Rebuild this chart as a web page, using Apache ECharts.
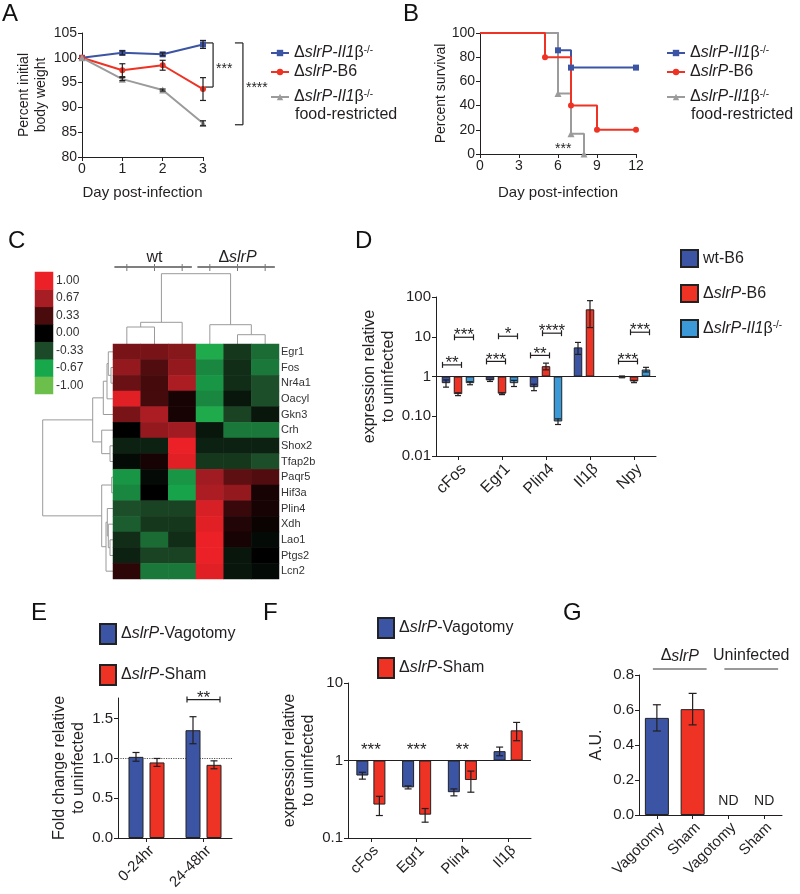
<!DOCTYPE html>
<html>
<head>
<meta charset="utf-8">
<script src="https://cdn.jsdelivr.net/npm/echarts@6/dist/echarts.min.js"></script>
<style>
  html, body { margin: 0; padding: 0; background: #fff; }
  #wrap { position: relative; width: 800px; height: 894px; }
  .panel { position: absolute; left: 0; top: 0; width: 800px; height: 894px; }
</style>
</head>
<body>
<div id="wrap"></div>
<script>
// ---- A: body weight ----
const daysA = [0, 1, 2, 3];
const weightIl1b = [100, 101.0, 100.7, 102.7];
const weightIl1bErr = [0, 0.4, 0.3, 0.8];
const weightB6 = [100, 97.5, 98.5, 93.7];
const weightB6Err = [0, 1.3, 1.0, 2.3];
const weightFR = [100, 95.7, 93.5, 86.8];
const weightFRErr = [0, 0.3, 0.2, 0.5];

// ---- B: survival [day, percent] ----
const survIl1b = [[0, 100], [6, 85.7], [7, 71.4], [12, 71.4]];
const survB6 = [[0, 100], [5, 80], [7, 40], [9, 20], [12, 20]];
const survFR = [[0, 100], [6, 50], [7, 16.7], [8, 0]];

// ---- C: heatmap ----
const heatSamples = ['wt-1', 'wt-2', 'wt-3', 'slrP-1', 'slrP-2', 'slrP-3'];
const heatGenes = ['Egr1', 'Fos', 'Nr4a1', 'Oacyl', 'Gkn3', 'Crh', 'Shox2', 'Tfap2b',
  'Paqr5', 'Hif3a', 'Plin4', 'Xdh', 'Lao1', 'Ptgs2', 'Lcn2'];
const heatValues = [
  [0.50, 0.50, 0.55, -0.70, -0.25, -0.45],
  [0.60, 0.35, 0.60, -0.55, -0.20, -0.50],
  [0.45, 0.30, 0.70, -0.60, -0.20, -0.35],
  [0.95, 0.30, 0.10, -0.55, -0.10, -0.35],
  [0.50, 0.70, 0.10, -0.70, -0.30, -0.10],
  [0.00, 0.60, 0.65, -0.10, -0.50, -0.50],
  [-0.15, -0.15, 1.00, -0.15, -0.15, -0.15],
  [-0.05, 0.10, 0.95, -0.25, -0.25, -0.35],
  [-0.60, -0.05, -0.60, 0.65, 0.40, 0.35],
  [-0.55, 0.00, -0.65, 0.70, 0.60, 0.10],
  [-0.35, -0.30, -0.30, 0.90, 0.25, 0.10],
  [-0.40, -0.25, -0.25, 0.95, 0.15, 0.05],
  [-0.20, -0.45, -0.20, 1.00, 0.10, -0.05],
  [-0.15, -0.30, -0.30, 1.00, -0.10, 0.00],
  [0.20, -0.50, -0.50, 0.95, -0.10, -0.05]
];
// linkage: [nodeA, nodeB, height]; new node ids continue after the leaves
const colMerges = [[0, 1, 17], [6, 2, 21.7], [4, 5, 9.3], [3, 8, 19.3], [7, 9, 70.3]];
const rowMerges = [[1, 2, 2], [0, 15, 4.7], [16, 3, 6], [17, 4, 9.7], [6, 7, 3], [5, 19, 11.3],
  [18, 20, 20.3], [8, 9, 1.3], [12, 13, 3], [11, 23, 4.7], [10, 24, 5.7], [25, 14, 7],
  [22, 26, 11.3], [21, 27, 70.3]];
const keyValues = [-1, -0.67, -0.33, 0, 0.33, 0.67, 1];
const keyColors = ['#6cbf4a', '#17a84c', '#1c4a27', '#000000', '#4b0b0d', '#a51d23', '#ec2027'];

// ---- D: expression ----
const genesD = ['cFos', 'Egr1', 'Plin4', 'Il1β', 'Npy'];
const dWt = [0.68, 0.80, 0.54, 5.4, 0.98];
const dWtErr = [0.14, 0.05, 0.10, 1.8, 0.05];
const dB6 = [0.36, 0.37, 1.82, 49, 0.75];
const dB6Err = [0.03, 0.02, 0.35, 32, 0.05];
const dIl1b = [0.68, 0.68, 0.074, null, 1.5];
const dIl1bErr = [0.06, 0.12, 0.012, null, 0.2];

// ---- E: food intake ----
const timesE = ['0-24hr', '24-48hr'];
const eVag = [1.02, 1.355];
const eVagErr = [0.055, 0.17];
const eSham = [0.95, 0.92];
const eShamErr = [0.05, 0.05];

// ---- F: expression after vagotomy ----
const genesF = ['cFos', 'Egr1', 'Plin4', 'Il1β'];
const fVag = [0.64, 0.45, 0.39, 1.32];
const fVagErr = [0.065, 0.02, 0.04, 0.17];
const fSham = [0.27, 0.20, 0.56, 2.45];
const fShamErr = [0.075, 0.04, 0.17, 0.65];

// ---- G: A.U. ----
const catsG = ['Vagotomy', 'Sham', 'Vagotomy', 'Sham'];
const gValues = [0.555, 0.605, null, null];
const gErr = [0.075, 0.09, null, null];

// ---------------------------------------------------------------
const FONT = "'Liberation Sans', Arial, Helvetica, sans-serif";
const INK = '#231f20';
const BLUE = '#3b54a4';
const RED = '#ee3224';
const LBLUE = '#3c99d8';
const GRAY = '#9b9b9b';

const N_IL1B = 'ΔslrP-Il1β-/-';
const N_B6 = 'ΔslrP-B6';
const N_FR = 'ΔslrP-Il1β-/- food-restricted';
const N_WT = 'wt-B6';
const N_VAG = 'ΔslrP-Vagotomy';
const N_SHAM = 'ΔslrP-Sham';
const LABELS = {};
LABELS[N_IL1B] = 'Δ{i|slrP-Il1}β{s|-/-}';
LABELS[N_B6] = 'Δ{i|slrP}-B6';
LABELS[N_FR] = 'Δ{i|slrP-Il1}β{s|-/-}';
LABELS[N_WT] = 'wt-B6';
LABELS[N_VAG] = 'Δ{i|slrP}-Vagotomy';
LABELS[N_SHAM] = 'Δ{i|slrP}-Sham';
const RICH = {
  i: { fontStyle: 'italic', fontSize: 16, fontFamily: FONT, color: INK },
  s: { fontSize: 10, fontFamily: FONT, color: INK, verticalAlign: 'top' }
};

function makeChart(option) {
  const div = document.createElement('div');
  div.className = 'panel';
  document.getElementById('wrap').appendChild(div);
  const chart = echarts.init(div);
  chart.setOption(Object.assign({ animation: false, textStyle: { fontFamily: FONT } }, option));
  return chart;
}

function axis(extra) {
  return Object.assign({
    axisLine: { show: true, onZero: false, lineStyle: { color: INK, width: 1 } },
    axisTick: { show: true, length: 4, lineStyle: { color: INK } },
    splitLine: { show: false },
    axisLabel: { color: INK, fontSize: 14, fontFamily: FONT, margin: 5 },
    nameLocation: 'middle',
    nameTextStyle: { color: INK, fontSize: 15, fontFamily: FONT, lineHeight: 18 }
  }, extra);
}

// category x axis with labels turned 45 degrees, hung from their top-right corner
function rotatedCats(cats, fontSize) {
  return axis({ type: 'category', data: cats,
    axisTick: { show: true, alignWithLabel: true, length: 4, lineStyle: { color: INK } },
    axisLabel: { rotate: 45, fontSize: fontSize, color: INK, fontFamily: FONT, margin: 5,
      interval: 0, verticalAlign: 'top', align: 'right' } });
}

function letter(t, x, y) {
  return { type: 'text', x: x, y: y, style: { text: t, fontSize: 24, fontFamily: FONT, fill: '#111', verticalAlign: 'top' } };
}

function legendItems(names, left, tops) {
  return names.map((n, i) => ({
    data: [n], orient: 'vertical', left: left, top: tops[i], padding: 0,
    itemWidth: 18, itemHeight: 8, selectedMode: false,
    textStyle: { fontSize: 16, color: INK, fontFamily: FONT, rich: RICH },
    formatter: name => LABELS[name]
  }));
}

function barLegend(names, left, top, w, h, gap) {
  return {
    data: names, orient: 'vertical', left: left, top: top, padding: 0,
    icon: 'rect', itemWidth: w, itemHeight: h, itemGap: gap, selectedMode: false,
    textStyle: { fontSize: 16, color: INK, fontFamily: FONT, rich: RICH },
    formatter: name => LABELS[name]
  };
}

// error bars: one custom series, drawn at a pixel offset from the category / x value
function errorBars(xi, yi, xs, means, errs, offset, cap) {
  const data = [];
  xs.forEach((x, i) => {
    if (means[i] == null || !errs[i]) return;
    data.push([x, means[i] - errs[i], means[i] + errs[i]]);
  });
  return {
    type: 'custom', xAxisIndex: xi, yAxisIndex: yi, silent: true, clip: false, z: 5,
    encode: { x: 0, y: [1, 2] }, data: data,
    renderItem(params, api) {
      const lo = api.coord([api.value(0), api.value(1)]);
      const hi = api.coord([api.value(0), api.value(2)]);
      const x = lo[0] + offset, h = cap / 2;
      const st = { stroke: INK, lineWidth: 1.2 };
      return { type: 'group', children: [
        { type: 'line', shape: { x1: x, y1: hi[1], x2: x, y2: lo[1] }, style: st },
        { type: 'line', shape: { x1: x - h, y1: hi[1], x2: x + h, y2: hi[1] }, style: st },
        { type: 'line', shape: { x1: x - h, y1: lo[1], x2: x + h, y2: lo[1] }, style: st }
      ] };
    }
  };
}

// significance brackets / text between bars a and b of a category
function brackets(xi, yi, items, step, n, ext, fontSize, dy) {
  const off = k => (k - (n - 1) / 2) * step;
  return {
    type: 'custom', xAxisIndex: xi, yAxisIndex: yi, silent: true, clip: false, z: 6,
    data: items.map(d => [d.cat, d.y]),
    renderItem(params, api) {
      const d = items[params.dataIndex];
      const p = api.coord([api.value(0), api.value(1)]);
      const kids = [];
      let tx = p[0];
      const st = { stroke: INK, lineWidth: 1.2 };
      if (d.a != null) {
        const x1 = p[0] + off(d.a) - ext, x2 = p[0] + off(d.b) + ext;
        kids.push({ type: 'line', shape: { x1: x1, y1: p[1], x2: x2, y2: p[1] }, style: st });
        kids.push({ type: 'line', shape: { x1: x1, y1: p[1] - 3, x2: x1, y2: p[1] + 3 }, style: st });
        kids.push({ type: 'line', shape: { x1: x2, y1: p[1] - 3, x2: x2, y2: p[1] + 3 }, style: st });
        tx = (x1 + x2) / 2;
      }
      kids.push({ type: 'text', x: tx, y: p[1] + dy, style: {
        text: d.text, align: 'center', verticalAlign: d.a != null ? 'bottom' : 'middle',
        fontSize: fontSize, fontFamily: FONT, fill: INK } });
      return { type: 'group', children: kids };
    }
  };
}

// ================= A =================
const bracketsA = [
  { x: 3.25, y1: 103.0, y2: 94.1, text: '***' },
  { x: 3.99, y1: 103.0, y2: 86.5, text: '****' }
];
function lineA(name, ys, color, symbol, size) {
  return { type: 'line', name: name, data: daysA.map((d, i) => [d, ys[i]]), color: color,
    symbol: symbol, symbolSize: size, lineStyle: { width: 2 }, z: 3 };
}
makeChart({
  graphic: [letter('A', 2, 2),
    { type: 'text', x: 295, y: 115, style: { text: 'food-restricted', fontSize: 16, fontFamily: FONT, fill: INK, verticalAlign: 'middle' } }],
  grid: { left: 82, top: 33, width: 121, height: 124 },
  xAxis: axis({ type: 'value', min: 0, max: 3, interval: 1, name: 'Day post-infection', nameGap: 27 }),
  yAxis: axis({ type: 'value', min: 80, max: 105, interval: 5, name: 'Percent initial\nbody weight', nameGap: 31,
    nameTextStyle: { color: INK, fontSize: 14, fontFamily: FONT, lineHeight: 17 } }),
  legend: legendItems([N_IL1B, N_B6, N_FR], 270, [45, 64, 89]),
  series: [
    lineA(N_IL1B, weightIl1b, BLUE, 'rect', 6),
    lineA(N_B6, weightB6, RED, 'circle', 6),
    lineA(N_FR, weightFR, GRAY, 'triangle', 7),
    errorBars(0, 0, daysA, weightIl1b, weightIl1bErr, 0, 6),
    errorBars(0, 0, daysA, weightB6, weightB6Err, 0, 6),
    errorBars(0, 0, daysA, weightFR, weightFRErr, 0, 6),
    {
      type: 'custom', xAxisIndex: 0, yAxisIndex: 0, silent: true, clip: false,
      data: bracketsA.map(b => [b.x, b.y1]),
      renderItem(params, api) {
        const b = bracketsA[params.dataIndex];
        const p1 = api.coord([b.x, b.y1]), p2 = api.coord([b.x, b.y2]);
        const st = { stroke: INK, lineWidth: 1.2 };
        return { type: 'group', children: [
          { type: 'line', shape: { x1: p1[0], y1: p1[1], x2: p2[0], y2: p2[1] }, style: st },
          { type: 'line', shape: { x1: p1[0] - 8, y1: p1[1], x2: p1[0], y2: p1[1] }, style: st },
          { type: 'line', shape: { x1: p2[0] - 8, y1: p2[1], x2: p2[0], y2: p2[1] }, style: st },
          { type: 'text', x: p1[0] + 3, y: (p1[1] + p2[1]) / 2 + 4, style: { text: b.text, fontSize: 14,
            fontFamily: FONT, fill: INK, verticalAlign: 'middle' } }
        ] };
      }
    }
  ]
});

// ================= B =================
function stepB(name, pts, color, symbol, size) {
  return { type: 'line', name: name, step: 'end', color: color, symbol: symbol, symbolSize: size,
    lineStyle: { width: 2 },
    data: pts.map((p, i) => i === 0 ? { value: p, symbol: 'none' } : p) };
}
makeChart({
  graphic: [letter('B', 403, 2),
    { type: 'text', x: 691, y: 115, style: { text: 'food-restricted', fontSize: 16, fontFamily: FONT, fill: INK, verticalAlign: 'middle' } }],
  grid: { left: 480, top: 33, width: 156, height: 121 },
  xAxis: axis({ type: 'value', min: 0, max: 12, interval: 3, name: 'Day post-infection', nameGap: 30 }),
  yAxis: axis({ type: 'value', min: 0, max: 100, interval: 20, name: 'Percent survival', nameGap: 30,
    nameTextStyle: { color: INK, fontSize: 14, fontFamily: FONT } }),
  legend: legendItems([N_IL1B, N_B6, N_FR], 666, [45, 64, 89]),
  series: [
    stepB(N_IL1B, survIl1b, BLUE, 'rect', 6),
    stepB(N_FR, survFR, GRAY, 'triangle', 7),
    stepB(N_B6, survB6, RED, 'circle', 6),
    brackets(0, 0, [{ cat: 6.4, y: 4, text: '***' }], 0, 1, 0, 14, 0)
  ]
});

// ================= C =================
function dendroSegments(n, merges, horizontal) {
  const pos = [], ht = [], segs = [];
  for (let i = 0; i < n; i++) { pos.push(i + 0.5); ht.push(0); }
  merges.forEach(([a, b, h]) => {
    segs.push([[pos[a], ht[a]], [pos[a], h], [pos[b], h], [pos[b], ht[b]]]);
    pos.push((pos[a] + pos[b]) / 2);
    ht.push(h);
  });
  return horizontal ? segs.map(s => s.map(([p, h]) => [h, p])) : segs;
}
function dendroSeries(xi, yi, segs) {
  return {
    type: 'custom', xAxisIndex: xi, yAxisIndex: yi, silent: true, clip: false,
    data: segs.map(s => s[1]),
    renderItem(params, api) {
      const pts = segs[params.dataIndex].map(c => api.coord(c));
      return { type: 'polyline', shape: { points: pts }, style: { stroke: '#9a9a9a', lineWidth: 1, fill: null } };
    }
  };
}
const colSegs = dendroSegments(6, colMerges, false);
const rowSegs = dendroSegments(15, rowMerges, true);
const headerGroups = [{ text: 'wt', from: 0, to: 3 }, { text: 'Δ{i|slrP}', from: 3, to: 6 }];
const heatData = [];
heatValues.forEach((row, r) => row.forEach((v, c) => heatData.push([c, r, v])));

makeChart({
  graphic: [letter('C', 8, 229), letter('D', 355, 229)],
  grid: [
    { left: 113, top: 264, width: 166, height: 80 },
    { left: 38, top: 344, width: 75, height: 235 },
    { left: 113, top: 344, width: 166, height: 235 },
    { left: 35, top: 272, width: 18, height: 122 }
  ],
  xAxis: [
    { gridIndex: 0, type: 'value', min: 0, max: 6, show: false },
    { gridIndex: 1, type: 'value', min: 0, max: 75, inverse: true, show: false },
    { gridIndex: 2, type: 'category', data: heatSamples, show: false },
    { gridIndex: 3, type: 'category', data: [''], show: false }
  ],
  yAxis: [
    { gridIndex: 0, type: 'value', min: 0, max: 80, show: false },
    { gridIndex: 1, type: 'value', min: 0, max: 15, inverse: true, show: false },
    { gridIndex: 2, type: 'category', data: heatGenes, inverse: true, position: 'right',
      axisLine: { show: false }, axisTick: { show: false },
      axisLabel: { fontSize: 11, color: '#333', margin: 2, fontFamily: FONT } },
    { gridIndex: 3, type: 'category', data: keyValues.map(v => v.toFixed(2)), position: 'right',
      axisLine: { show: false }, axisTick: { show: false },
      axisLabel: { fontSize: 12, color: '#333', margin: 3, fontFamily: FONT } }
  ],
  visualMap: { show: false, type: 'continuous', min: -1, max: 1, dimension: 2, seriesIndex: [2, 3],
    inRange: { color: keyColors } },
  series: [
    dendroSeries(0, 0, colSegs),
    dendroSeries(1, 1, rowSegs),
    { type: 'heatmap', xAxisIndex: 2, yAxisIndex: 2, data: heatData, emphasis: { disabled: true } },
    { type: 'heatmap', xAxisIndex: 3, yAxisIndex: 3, data: keyValues.map((v, i) => [0, i, v]), emphasis: { disabled: true } },
    {
      type: 'custom', xAxisIndex: 0, yAxisIndex: 0, silent: true, clip: false,
      data: headerGroups.map(g => [(g.from + g.to) / 2, 77]),
      renderItem(params, api) {
        const g = headerGroups[params.dataIndex];
        const a = api.coord([g.from + 0.05, 77]), b = api.coord([g.to - 0.15, 77]);
        const t = api.coord([(g.from + g.to) / 2, 86]);
        const kids = [
          { type: 'line', shape: { x1: a[0], y1: a[1], x2: b[0], y2: b[1] }, style: { stroke: '#555', lineWidth: 1.5 } },
          { type: 'text', x: t[0], y: t[1], style: { text: g.text, rich: RICH, fontSize: 16, fontFamily: FONT,
            fill: INK, align: 'center', verticalAlign: 'middle' } }
        ];
        for (let c = g.from; c < g.to; c++) {
          const p = api.coord([c + 0.5, 77]);
          kids.push({ type: 'line', shape: { x1: p[0], y1: p[1] - 3, x2: p[0], y2: p[1] + 4 }, style: { stroke: '#777', lineWidth: 1 } });
        }
        return { type: 'group', children: kids };
      }
    }
  ]
});

// ================= D =================
const bracketsD = [
  { cat: 0, a: 0, b: 1, y: 1.96, text: '**' }, { cat: 0, a: 1, b: 2, y: 9.7, text: '***' },
  { cat: 1, a: 0, b: 1, y: 2.4, text: '***' }, { cat: 1, a: 1, b: 2, y: 10.3, text: '*' },
  { cat: 2, a: 0, b: 1, y: 3.4, text: '**' }, { cat: 2, a: 1, b: 2, y: 12.3, text: '****' },
  { cat: 4, a: 0, b: 1, y: 2.4, text: '***' }, { cat: 4, a: 1, b: 2, y: 13, text: '***' }
];
const logLabels = { '-2': '0.01', '-1': '0.10', '0': '1', '1': '10', '2': '100' };
const STEP_D = 12;
function barSeries(name, values, color, width, gap) {
  return { type: 'bar', name: name, data: values.map(v => v == null ? '-' : v), barWidth: width, barGap: gap,
    itemStyle: { color: color, borderColor: '#222', borderWidth: 1 }, z: 3 };
}
const baseLine = { silent: true, symbol: 'none', label: { show: false },
  lineStyle: { color: INK, type: 'solid', width: 1.2 }, data: [{ yAxis: 1 }] };
const idxD = genesD.map((g, i) => i);
makeChart({
  grid: { left: 436, top: 297, width: 220, height: 159 },
  xAxis: rotatedCats(genesD, 16),
  yAxis: axis({ type: 'log', logBase: 10, min: 0.01, max: 100, name: 'expression relative\nto uninfected', nameGap: 37,
    nameTextStyle: { color: INK, fontSize: 16, fontFamily: FONT, lineHeight: 19 },
    axisLabel: { color: INK, fontSize: 15, fontFamily: FONT, margin: 5,
      formatter: v => logLabels[String(Math.round(Math.log10(v)))] } }),
  legend: barLegend([N_WT, N_B6, N_IL1B], 680, 249, 17, 17, 16),
  series: [
    Object.assign(barSeries(N_WT, dWt, BLUE, 8.5, '41%'), { markLine: baseLine }),
    barSeries(N_B6, dB6, RED, 8.5, '41%'),
    barSeries(N_IL1B, dIl1b, LBLUE, 8.5, '41%'),
    errorBars(0, 0, idxD, dWt, dWtErr, -STEP_D, 6),
    errorBars(0, 0, idxD, dB6, dB6Err, 0, 6),
    errorBars(0, 0, idxD, dIl1b, dIl1bErr, STEP_D, 6),
    brackets(0, 0, bracketsD, STEP_D, 3, 3.5, 17, 7)
  ]
});

// ================= E =================
const STEP_E = 21;
makeChart({
  graphic: [letter('E', 31, 601), letter('F', 263, 601), letter('G', 563, 601)],
  grid: { left: 118, top: 698, width: 114, height: 140 },
  xAxis: rotatedCats(timesE, 15),
  yAxis: axis({ type: 'value', min: 0, max: 1.76, interval: 0.5, name: 'Fold change relative\nto uninfected', nameGap: 27,
    nameTextStyle: { color: INK, fontSize: 16, fontFamily: FONT, lineHeight: 19 },
    axisTick: { show: true, length: 4, lineStyle: { color: INK }, customValues: [0, 0.5, 1, 1.5] },
    axisLabel: { color: INK, fontSize: 15, fontFamily: FONT, margin: 5, customValues: [0, 0.5, 1, 1.5],
      formatter: v => v.toFixed(1) } }),
  legend: barLegend([N_VAG, N_SHAM], 99, 623, 16, 20, 19),
  series: [
    Object.assign(barSeries(N_VAG, eVag, BLUE, 15, '40%'), { markLine: Object.assign({}, baseLine,
      { lineStyle: { color: '#555', type: 'dotted', width: 1.2 }, z: 1 }) }),
    barSeries(N_SHAM, eSham, RED, 15, '40%'),
    errorBars(0, 0, [0, 1], eVag, eVagErr, -STEP_E / 2, 7),
    errorBars(0, 0, [0, 1], eSham, eShamErr, STEP_E / 2, 7),
    brackets(0, 0, [{ cat: 1, a: 0, b: 1, y: 1.74, text: '**' }], STEP_E, 2, 6, 17, 7)
  ]
});

// ================= F =================
const STEP_F = 17;
const logLabelsF = { '-1': '0.1', '0': '1', '1': '10' };
makeChart({
  grid: { left: 348, top: 683, width: 183, height: 155 },
  xAxis: rotatedCats(genesF, 15),
  yAxis: axis({ type: 'log', logBase: 10, min: 0.1, max: 10, name: 'expression relative\nto uninfected', nameGap: 18,
    nameTextStyle: { color: INK, fontSize: 16, fontFamily: FONT, lineHeight: 19 },
    axisLabel: { color: INK, fontSize: 15, fontFamily: FONT, margin: 5,
      formatter: v => logLabelsF[String(Math.round(Math.log10(v)))] } }),
  legend: barLegend([N_VAG, N_SHAM], 377, 617, 16, 20, 18),
  series: [
    Object.assign(barSeries(N_VAG, fVag, BLUE, 12, '42%'), { markLine: baseLine }),
    barSeries(N_SHAM, fSham, RED, 12, '42%'),
    errorBars(0, 0, [0, 1, 2, 3], fVag, fVagErr, -STEP_F / 2, 7),
    errorBars(0, 0, [0, 1, 2, 3], fSham, fShamErr, STEP_F / 2, 7),
    brackets(0, 0, [{ cat: 0, y: 1.35, text: '***' }, { cat: 1, y: 1.35, text: '***' }, { cat: 2, y: 1.35, text: '**' }],
      0, 1, 0, 17, 0)
  ]
});

// ================= G =================
const groupsG = [{ from: 0, to: 1, text: 'Δ{i|slrP}' }, { from: 2, to: 3, text: 'Uninfected' }];
makeChart({
  grid: { left: 639, top: 675, width: 143, height: 140 },
  xAxis: rotatedCats(catsG, 15),
  yAxis: axis({ type: 'value', min: 0, max: 0.8, interval: 0.2, name: 'A.U.', nameGap: 34,
    nameTextStyle: { color: INK, fontSize: 16, fontFamily: FONT },
    axisLabel: { color: INK, fontSize: 15, fontFamily: FONT, margin: 5, formatter: v => v.toFixed(1) } }),
  series: [
    { type: 'bar', barWidth: 24, z: 3,
      data: gValues.map((v, i) => v == null ? '-' : { value: v, itemStyle: { color: i === 0 ? BLUE : RED } }),
      itemStyle: { borderColor: '#222', borderWidth: 1 } },
    errorBars(0, 0, [0, 1, 2, 3], gValues, gErr, 0, 8),
    brackets(0, 0, [{ cat: 2, y: 0.08, text: 'ND' }, { cat: 3, y: 0.08, text: 'ND' }], 0, 1, 0, 14, 0),
    {
      type: 'custom', xAxisIndex: 0, yAxisIndex: 0, silent: true, clip: false,
      data: groupsG.map(g => [g.from, 0.834]),
      renderItem(params, api) {
        const g = groupsG[params.dataIndex];
        const a = api.coord([g.from, api.value(1)]), b = api.coord([g.to, api.value(1)]);
        const x1 = a[0] - 4, x2 = b[0] + 14;
        return { type: 'group', children: [
          { type: 'line', shape: { x1: x1, y1: a[1], x2: x2, y2: a[1] }, style: { stroke: '#777', lineWidth: 1.5 } },
          { type: 'text', x: (x1 + x2) / 2, y: a[1] - 5, style: { text: g.text, rich: RICH, fontSize: 16,
            fontFamily: FONT, fill: INK, align: 'center', verticalAlign: 'bottom' } }
        ] };
      }
    }
  ]
});
</script>
</body>
</html>
